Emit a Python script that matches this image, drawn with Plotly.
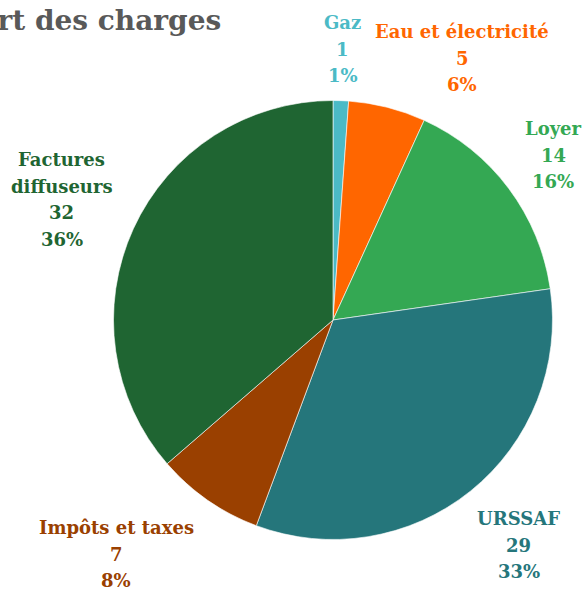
import math
import plotly.graph_objects as go

labels = ["Gaz", "Eau et électricité", "Loyer", "URSSAF", "Impôts et taxes", "Factures diffuseurs"]
label_lines = [["Gaz"], ["Eau et électricité"], ["Loyer"], ["URSSAF"], ["Impôts et taxes"], ["Factures", "diffuseurs"]]
values = [1, 5, 14, 29, 7, 32]
colors = ["#4BBAC6", "#FF6600", "#34A853", "#25767B", "#9A4000", "#1F6532"]
title_text = "Part des charges"

W, H = 587, 591
CX, CY, R = 333, 320, 219.5

# label placement (style): radial distance in px and angular tweak in degrees
label_dist = [271, 292, 275, 292, 319, 297]
label_shift = [0, 12, 0, -0.7, 8, -0.6]
LINE_H = 26.5
FONT = "DejaVu Serif"

fig = go.Figure(go.Pie(
    labels=labels, values=values, sort=False, direction="clockwise", rotation=0,
    marker=dict(colors=colors, line=dict(color="white", width=0.6)),
    textinfo="none", hoverinfo="label+value+percent", showlegend=False,
    domain=dict(x=[(CX - R) / W, (CX + R) / W], y=[1 - (CY + R) / H, 1 - (CY - R) / H]),
))

total = sum(values)
cum = 0
annotations = []
for i, v in enumerate(values):
    mid = (cum + v / 2) / total * 360 + label_shift[i]
    cum += v
    th = math.radians(mid)
    px = CX + label_dist[i] * math.sin(th)
    py = CY - label_dist[i] * math.cos(th)
    pct = round(v / total * 100)
    lines = label_lines[i] + [str(v), f"{pct}%"]
    n = len(lines)
    for k, line in enumerate(lines):
        ly = py + (k - (n - 1) / 2) * LINE_H
        annotations.append(dict(
            x=px / W, y=1 - ly / H, xref="paper", yref="paper",
            xanchor="center", yanchor="middle", showarrow=False,
            text=f"<b>{line}</b>",
            font=dict(family=FONT, size=18, color=colors[i]),
        ))

annotations.append(dict(
    x=223 / W, y=1 - 21 / H, xref="paper", yref="paper", xanchor="right", yanchor="middle",
    showarrow=False, text=f"<b>{title_text}</b>",
    font=dict(family=FONT, size=28, color="#595959"),
))

fig.update_layout(
    width=W, height=H, margin=dict(l=0, r=0, t=0, b=0),
    paper_bgcolor="white", plot_bgcolor="white",
    annotations=annotations,
)
fig.write_html("out.html", config={"displayModeBar": False})

with open("out.html", encoding="utf-8") as f:
    html = f.read()
html = html.replace("<head>", "<head><style>html,body{margin:0;padding:0;overflow:hidden}</style>", 1)
with open("out.html", "w", encoding="utf-8") as f:
    f.write(html)
